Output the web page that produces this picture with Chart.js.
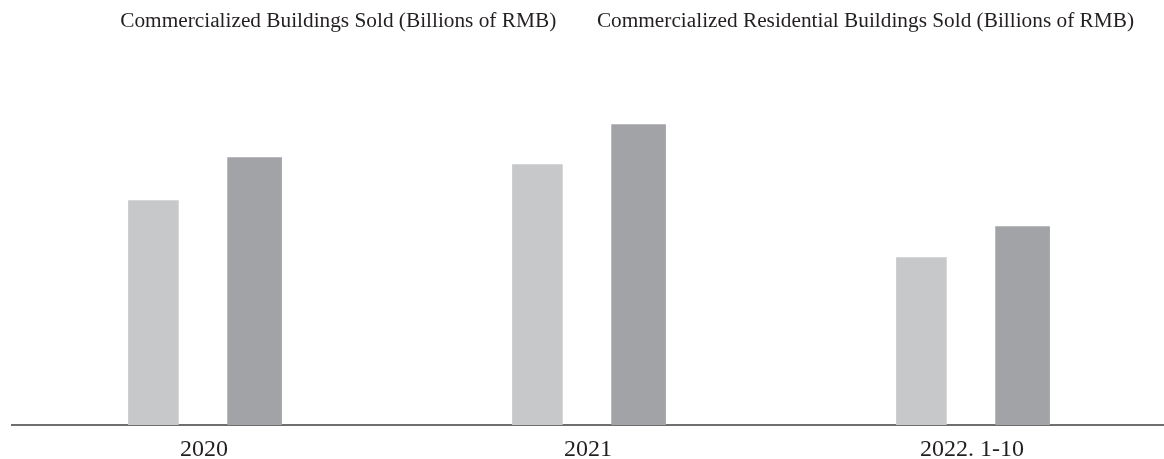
<!DOCTYPE html>
<html>
<head>
<meta charset="utf-8">
<script src="https://cdn.jsdelivr.net/npm/chart.js@4/dist/chart.umd.min.js"></script>
<style>
  html, body { margin: 0; padding: 0; background: #ffffff; }
  #wrap { width: 1164px; height: 459px; }
</style>
</head>
<body>
<div id="wrap"><canvas id="salesChart"></canvas></div>
<script>
// periods on the x axis
var periods = ["2020", "2021", "2022. 1-10"];

// series names (legend text)
var seriesNames = [
    "Commercialized Buildings Sold (Billions of RMB)",
    "Commercialized Residential Buildings Sold (Billions of RMB)"
];

// bar heights, relative units (no value axis is shown)
var buildingsSold = [225, 261, 168];
var residentialSold = [268, 301, 199];

var serif = "'Liberation Serif', 'Times New Roman', serif";

var data = {
    labels: periods,
    datasets: [{
        label: seriesNames[0],
        data: buildingsSold,
        backgroundColor: "#c7c8ca",
        borderWidth: 0,
        barPercentage: 0.5,
        categoryPercentage: 0.527
    }, {
        label: seriesNames[1],
        data: residentialSold,
        backgroundColor: "#a2a3a7",
        borderWidth: 0,
        barPercentage: 0.54,
        categoryPercentage: 0.527
    }]
};

var options = {
    responsive: true,
    maintainAspectRatio: false,
    animation: false,
    layout: {
        // legend sits high, tick labels hang below the bottom edge a little
        padding: { top: -19, left: 12, right: 0, bottom: -16 }
    },
    plugins: {
        legend: {
            display: true,
            position: 'top',
            align: 'end',
            labels: {
                boxWidth: 0,
                boxHeight: 0,
                padding: 30,
                color: "#231f20",
                font: { family: serif, size: 21.3 }
            }
        },
        tooltip: { enabled: false }
    },
    scales: {
        x: {
            grid: { display: false, drawTicks: false },
            border: { display: true, color: "#6f6f71", width: 2 },
            ticks: {
                padding: 16,
                color: "#231f20",
                font: { family: serif, size: 24, lineHeight: 0.75 }
            }
        },
        y: {
            display: false,
            min: 0,
            max: 383
        }
    }
};

var salesChart = new Chart(document.getElementById('salesChart'), {
    type: 'bar',
    data: data,
    options: options
});
</script>
</body>
</html>
